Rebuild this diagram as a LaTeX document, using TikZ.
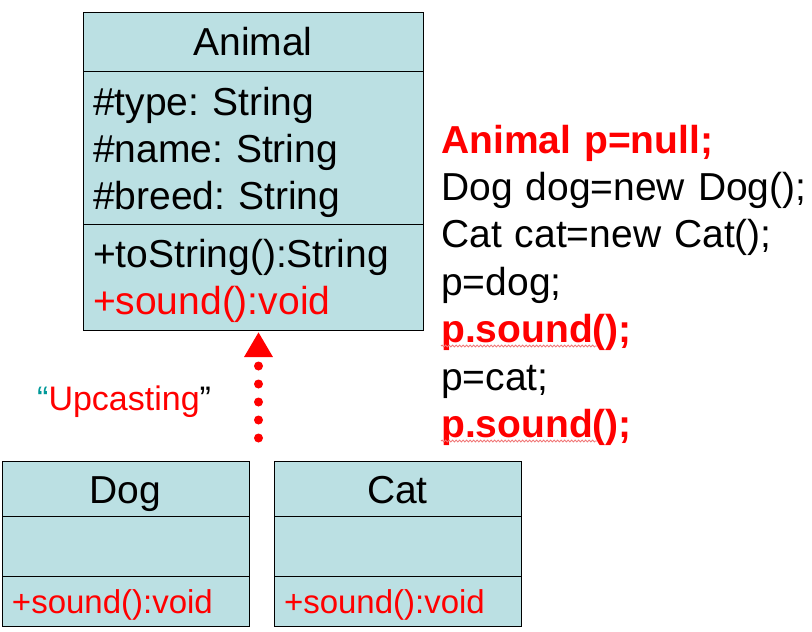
\documentclass[tikz,border=0pt]{standalone}
\usepackage{fontspec}
\setmainfont{Liberation Sans}
\frenchspacing
\usepackage{xcolor}
\definecolor{classFill}{HTML}{BBE0E3}
\definecolor{umlRed}{HTML}{FF0000}
\definecolor{quoteTeal}{HTML}{009999}
\definecolor{spellRed}{HTML}{F07878}
\usepackage{tikz}
\usetikzlibrary{
    arrows.meta,
    positioning,
    decorations.pathmorphing
}
\tikzset{
    % Base style for every class compartment
    class base/.style={
        rectangle,
        draw=black,
        line width=1pt,
        fill=classFill,
        inner xsep=10pt,
        inner ysep=0pt,
        outer sep=0pt,
        align=left,
        text=black,
        font=\fontsize{39}{47}\selectfont,
    },
    % Wide compartments of the parent class
    animal part/.style={
        class base,
        text width=320pt,
    },
    % Narrow compartments of the sub classes
    small part/.style={
        class base,
        text width=227pt,
    },
    % Class name row
    name row/.style={
        align=center,
    },
    % Method row of the sub classes
    small method/.style={
        text=umlRed,
        font=\fontsize{33}{40}\selectfont,
    },
    % Dotted upcast arrow
    upcast/.style={
        draw=umlRed,
        line width=9pt,
        line cap=round,
        dash pattern=on 0pt off 18pt,
        -{Triangle[length=25pt, width=27pt]},
        shorten >=2pt,
    },
    % Code listing on the right
    code text/.style={
        align=left,
        inner sep=0pt,
        text width=371pt,
        font=\fontsize{39}{47.4}\selectfont,
    },
    % Wavy spell check mark
    spell mark/.style={
        draw=spellRed,
        line width=0.8pt,
        decorate,
        decoration={snake, amplitude=1pt, segment length=3.5pt},
    },
}

\begin{document}
\begin{tikzpicture}[x=1pt, y=-1pt]
    \useasboundingbox (0,0) rectangle (812,632);

    % Animal
    \node (animal-name) [animal part, name row, text height=43pt, text depth=16pt, anchor=north west] at (83,12) {Animal};
    \node (animal-attrs) [animal part, text height=44pt, text depth=109pt, below=0pt of animal-name] {\#type: String\\\#name: String\\\#breed: String};
    \node (animal-ops) [animal part, text height=43pt, text depth=63pt, below=0pt of animal-attrs] {+toString():String\\\textcolor{umlRed}{+sound():void}};

    % Dog
    \node (dog-name) [small part, name row, text height=42pt, text depth=13pt, anchor=north west] at (2,461) {Dog};
    \node (dog-attrs) [small part, text height=60pt, text depth=0pt, below=0pt of dog-name] {};
    \node (dog-ops) [small part, small method, text height=37pt, text depth=13pt, below=0pt of dog-attrs] {+sound():void};

    % Cat
    \node (cat-name) [small part, name row, text height=42pt, text depth=13pt, anchor=north west] at (274,461) {Cat};
    \node (cat-attrs) [small part, text height=60pt, text depth=0pt, below=0pt of cat-name] {};
    \node (cat-ops) [small part, small method, text height=37pt, text depth=13pt, below=0pt of cat-attrs] {+sound():void};

    % upcasting arrow
    \coordinate (upcast-start) at (258.5,438);
    \draw [upcast] (upcast-start) -- (upcast-start |- animal-ops.south);
    \node (upcast-label) [anchor=base west, inner sep=0pt, text=umlRed, font=\fontsize{34}{40}\selectfont] at (37,410) {\textcolor{quoteTeal}{“}Upcasting\textcolor{black}{”}};

    % code
    \node (code) [code text, anchor=base west] at (441,153) {{\color{umlRed}\bfseries Animal p=null;}\\
        Dog dog=new Dog();\\
        Cat cat=new Cat();\\
        p=dog;\\
        {\color{umlRed}\bfseries p.sound();}\\
        p=cat;\\
        {\color{umlRed}\bfseries p.sound();}};
    \draw [spell mark] (441,346) -- (597,346);
    \draw [spell mark] (441,441) -- (597,441);
\end{tikzpicture}
\end{document}
